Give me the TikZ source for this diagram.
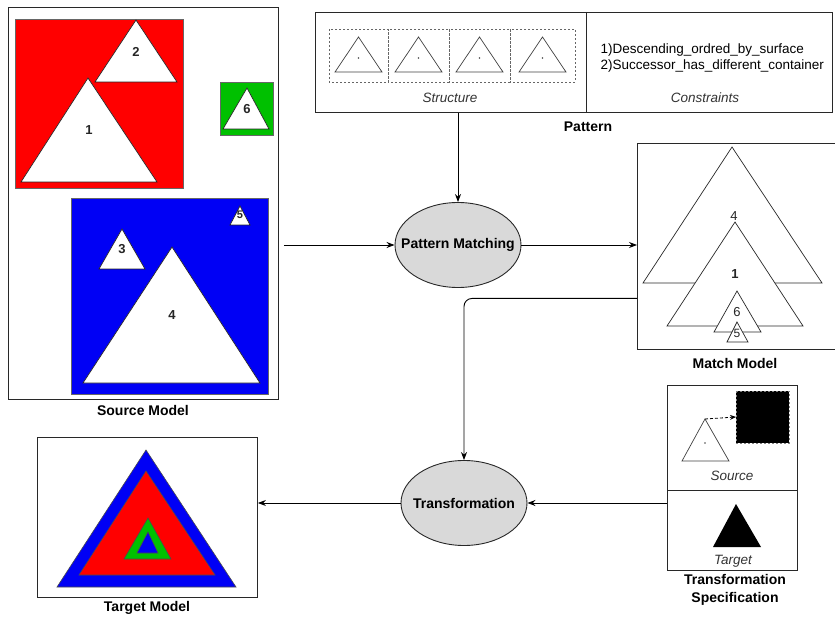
\documentclass[tikz,border=0pt]{standalone}
\usepackage{fontspec}
\setmainfont{Liberation Sans}
\usetikzlibrary{arrows.meta,shapes.geometric}
\definecolor{cred}{RGB}{255,0,0}
\definecolor{cblue}{RGB}{0,0,245}
\definecolor{cgreen}{RGB}{0,192,0}
\definecolor{cell}{RGB}{217,217,217}
\definecolor{cline}{RGB}{40,40,40}
\begin{document}
\begin{tikzpicture}[x=1pt,y=-1pt,
  box/.style={draw=cline, line width=0.9pt, inner sep=0pt, anchor=north west},
  proc/.style={ellipse, draw=cline, fill=cell, line width=0.9pt, minimum width=126pt,
    minimum height=85pt, inner sep=0pt, font=\fontsize{14}{16}\selectfont\bfseries},
  title/.style={font=\fontsize{14}{18}\selectfont\bfseries, align=center},
  num/.style={font=\fontsize{13}{15}\selectfont\bfseries, text=black!85},
  sub/.style={font=\fontsize{13.5}{15}\selectfont\itshape, text=black!80},
  wtri/.style={fill=white, draw=cline, line width=0.7pt},
  stri/.style={draw=black!75, line width=0.7pt},
  sq/.style={draw=black!60, line width=0.7pt},
  dbox/.style={draw=black!60, line width=0.7pt, dash pattern=on 2pt off 2pt},
  arr/.style={draw=black, line width=0.9pt, -{Stealth[length=8pt,width=6pt]}},
]
\useasboundingbox (0,0) rectangle (835,617);

% ---------- Source model ----------
\node[box, minimum width=270pt, minimum height=392pt] (src) at (8,7) {};
\filldraw[fill=cred, sq] (15,19) rectangle (183,188);
\draw[wtri] (136,20) -- (95,82) -- (177,82) -- cycle;
\draw[wtri] (88,78) -- (21,182) -- (157,182) -- cycle;
\node[num] (s2) at (136,52) {2};
\node[num] (s1) at (89,130) {1};
\filldraw[fill=cgreen, sq] (220,82) rectangle (273,135);
\draw[wtri] (247,88) -- (223,129) -- (269,129) -- cycle;
\node[num] (s6) at (247,109) {6};
\filldraw[fill=cblue, sq] (71,198) rectangle (268,394);
\draw[wtri] (240,206) -- (230,225) -- (250,225) -- cycle;
\node[num, font=\fontsize{11}{13}\selectfont\bfseries] (s5) at (240,215) {5};
\draw[wtri] (122,229) -- (99,269) -- (145,269) -- cycle;
\node[num] (s3) at (122,249) {3};
\draw[wtri] (172,247) -- (83,383) -- (260,383) -- cycle;
\node[num] (s4) at (172,315) {4};
\node[title] (srclab) at (143,410) {Source Model};

% ---------- Pattern ----------
\node[box, minimum width=517pt, minimum height=100pt] (pat) at (315,12) {};
\draw[draw=cline, line width=0.9pt] (586,12) -- (586,112);
\foreach \l/\r in {329/388, 388/449, 449/510, 510/575} {
  \draw[dbox] (\l,29) rectangle (\r,82);
  \pgfmathsetmacro{\c}{(\l+\r)/2}
  \draw[stri] (\c,37) -- (\c-23.5,72) -- (\c+23.5,72) -- cycle;
  \fill[black!70] (\c,58) circle (0.8pt);
}
\node[sub] (structlab) at (450,98) {Structure};
\node[sub] (conslab) at (705,98) {Constraints};
\node[anchor=west, align=left, font=\fontsize{13.5}{16}\selectfont] (cons) at (597,58)
  {1)Descending\_ordred\_by\_surface\\2)Successor\_has\_different\_container};
\node[title] (patlab) at (588,127) {Pattern};

% ---------- Processes ----------
\node[proc] (pm) at (458,245) {\makebox[0pt]{Pattern Matching}};
\node[proc] (tr) at (464,503) {\makebox[0pt]{Transformation}};

% ---------- Match model ----------
\node[box, minimum width=200pt, minimum height=206pt] (match) at (637,143) {};
\draw[wtri] (732,147) -- (643,283) -- (822,283) -- cycle;
\node[num, font=\fontsize{13}{15}\selectfont] (m4) at (734,216) {4};
\draw[wtri] (735,222) -- (667,326) -- (803,326) -- cycle;
\node[num] (m1) at (735,274) {1};
\draw[wtri] (737,291) -- (714,332) -- (761,332) -- cycle;
\node[num, font=\fontsize{13}{15}\selectfont] (m6) at (737,312) {6};
\draw[wtri] (737,322) -- (727,342) -- (748,342) -- cycle;
\node[num, font=\fontsize{12}{14}\selectfont] (m5) at (737,333) {5};
\node[title] (matchlab) at (735,363) {Match Model};

% ---------- Transformation specification ----------
\node[box, minimum width=130pt, minimum height=185pt] (spec) at (667,385) {};
\draw[draw=cline, line width=0.9pt] (667,490) -- (797,490);
\filldraw[fill=black, draw=black!50, line width=0.7pt, dash pattern=on 2pt off 2pt]
  (736,391) rectangle (789,443);
\draw[stri] (705,419) -- (682,461) -- (729,461) -- cycle;
\fill[black!70] (705,443) circle (0.8pt);
\coordinate (specapex) at (705,419);
\coordinate (specsq) at (736,417);
\draw[line width=0.8pt, dash pattern=on 3pt off 2pt, -{Stealth[length=6pt,width=5pt]}]
  (specapex) -- (specsq);
\node[sub] (srclab2) at (732,476) {Source};
\fill[black] (736,504) -- (713,547) -- (761,547) -- cycle;
\node[sub] (tgtlab2) at (733,561) {Target};
\node[title] (speclab) at (735,590) {Transformation\\Specification};

% ---------- Target model ----------
\node[box, minimum width=220pt, minimum height=160pt] (tgt) at (37,437) {};
\filldraw[fill=cblue, draw=black!70, line width=0.6pt] (146,450) -- (57,587) -- (236,587) -- cycle;
\filldraw[fill=cred, draw=black!70, line width=0.6pt] (146,471) -- (79,575) -- (215,575) -- cycle;
\filldraw[fill=cgreen, draw=black!70, line width=0.6pt] (148,518) -- (124,559) -- (171,559) -- cycle;
\filldraw[fill=cblue, draw=black!70, line width=0.6pt] (148,532) -- (137,553) -- (158,553) -- cycle;
\node[title] (tgtlab) at (147,608) {Target Model};

% ---------- Connectors ----------
\draw[arr, shorten <=5pt] (src.east |- pm.west) -- (pm.west);
\draw[arr] (pm.north |- pat.south) -- (pm.north);
\draw[arr] (pm.east) -- (match.west |- pm.east);
\coordinate (mout) at ([yshift=-52pt]match.west);
\draw[arr, rounded corners=8pt] (mout) -| (tr.north);
\draw[arr] (spec.west |- tr.east) -- (tr.east);
\draw[arr] (tr.west) -- (tgt.east |- tr.west);
\end{tikzpicture}
\end{document}
